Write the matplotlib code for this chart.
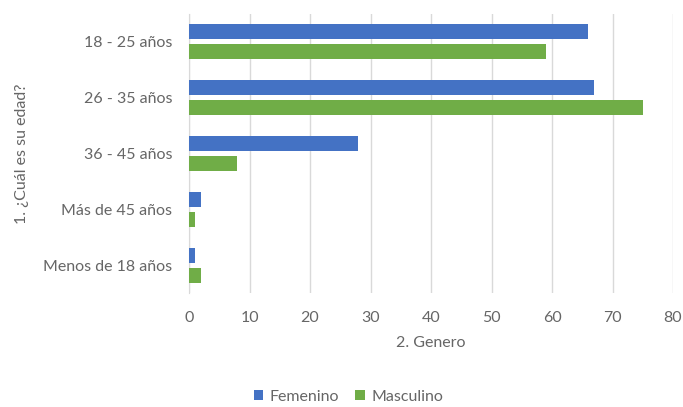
import matplotlib
matplotlib.use("Agg")
import matplotlib.pyplot as plt
import numpy as np

categories = ["18 - 25 años", "26 - 35 años", "36 - 45 años", "Más de 45 años", "Menos de 18 años"]
femenino = [66, 67, 28, 2, 1]
masculino = [59, 75, 8, 1, 2]
x_ticks = [0, 10, 20, 30, 40, 50, 60, 70, 80]

plt.rcParams['font.family'] = ['Lato', 'DejaVu Sans']
txt = '#666666'
fs = 11.5

fig = plt.figure(figsize=(6.83, 4.07), dpi=100)
ax = fig.add_axes([189/683, 1-293/407, (673-189)/683, (293-14)/407])

y = np.arange(len(categories))
h = 0.27
off = 0.18
ax.barh(y - off, femenino, height=h, color='#4472C4', label='Femenino', zorder=3)
ax.barh(y + off, masculino, height=h, color='#70AD47', label='Masculino', zorder=3)

ax.set_ylim(len(categories) - 0.5, -0.5)
ax.set_xlim(0, 80)
ax.set_xticks(x_ticks)
ax.set_xticklabels([str(v) for v in x_ticks], color=txt, fontsize=fs)
ax.set_yticks(y)
ax.set_yticklabels(categories, color=txt, fontsize=fs)
ax.tick_params(axis='both', length=0)
ax.tick_params(axis='x', pad=13)
ax.tick_params(axis='y', pad=12)
ax.grid(axis='x', color='#D9D9D9', linewidth=1, zorder=0)
for s in ['top', 'right', 'bottom']:
    ax.spines[s].set_visible(False)
ax.spines['left'].set_color('#D9D9D9')
ax.set_xlabel('2. Genero', color=txt, fontsize=fs, labelpad=8)
ax.set_ylabel('1. ¿Cuál es su edad?', color=txt, fontsize=fs, labelpad=10)

leg = fig.legend(loc='center', bbox_to_anchor=(0.51, 1-397/407), ncol=2, frameon=False,
                 prop={'size': fs}, handlelength=0.6, handleheight=0.6,
                 handletextpad=0.4, columnspacing=1.0)
for t in leg.get_texts():
    t.set_color(txt)

fig.savefig('out.png', dpi=100)
